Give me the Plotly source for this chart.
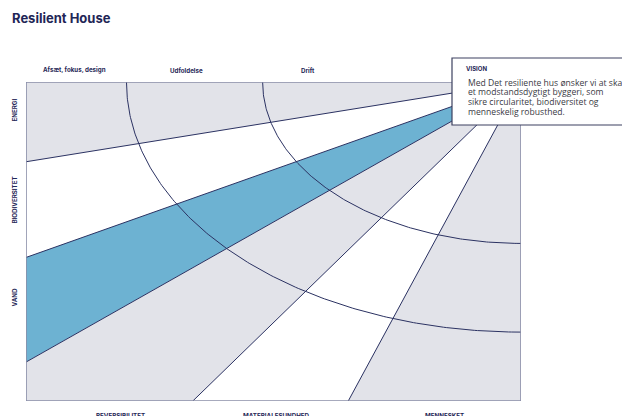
import numpy as np
import plotly.graph_objects as go

# ---------------- data (diagram geometry in frame units, 0..100) ----------------
title = "Resilient House"
phase_labels = ["Afsæt, fokus, design", "Udfoldelse", "Drift"]
phase_px_x = [74, 186, 308]
theme_left_labels = ["ENERGI", "BIODIVERSITET", "VAND"]
theme_left_px_y = [110, 200, 298]
theme_bottom_labels = ["REVERSIBILITET", "MATERIALESUNDHED", "MENNESKET"]
theme_bottom_px_x = [120, 276, 444]

focus = (100.0, 100.0)             # rays and arcs share the top-right corner
ray_left_y = [75.0, 45.0, 12.2]    # rays ending on the left edge
ray_bottom_x = [33.7, 65.1]        # rays ending on the bottom edge
arc_rx = [79.7, 52.2]              # arc radii (horizontal)
arc_ry = [78.4, 50.6]              # arc radii (vertical)

# sector fills, counter-clockwise from the top edge
sector_fill = ["gray", "white", "blue", "gray", "white", "gray"]

vision_title = "VISION"
vision_lines = [
    "Med Det resiliente hus ønsker vi at skabe",
    "et modstandsdygtigt byggeri, som",
    "sikre circularitet, biodiversitet og",
    "menneskelig robusthed.",
]

# ---------------- style ----------------
W, H = 622, 416
L, R, T, B = 26, 101, 82, 15
GRAY = "#e2e3e9"
BLUE = "#6db2d2"
NAVY = "#2b3262"
TXT = "#1f2656"
colors = {"gray": GRAY, "white": "#ffffff", "blue": BLUE}

def px2paper(px, py):
    return (px - L) / (W - L - R), (H - B - py) / (H - T - B)

fig = go.Figure()

# boundary points around the frame
bpts = [(0, 100)] + [(0, y) for y in ray_left_y] + [(0, 0)] + [(x, 0) for x in ray_bottom_x] + [(100, 0)]
ray_idx = [0, 1, 2, 3, 5, 6, 7]
for k in range(len(ray_idx) - 1):
    pts = bpts[ray_idx[k]:ray_idx[k + 1] + 1]
    xs = [focus[0]] + [p[0] for p in pts] + [focus[0]]
    ys = [focus[1]] + [p[1] for p in pts] + [focus[1]]
    fig.add_trace(go.Scatter(x=xs, y=ys, fill="toself", mode="lines",
                             line=dict(width=0), fillcolor=colors[sector_fill[k]],
                             hoverinfo="skip", showlegend=False))

# rays
ends = [(0, y) for y in ray_left_y] + [(x, 0) for x in ray_bottom_x]
for ex, ey in ends:
    fig.add_trace(go.Scatter(x=[focus[0], ex], y=[focus[1], ey], mode="lines",
                             line=dict(color=NAVY, width=1), hoverinfo="skip",
                             showlegend=False))

# arcs
t = np.linspace(np.pi, 1.5 * np.pi, 200)
for rx, ry in zip(arc_rx, arc_ry):
    fig.add_trace(go.Scatter(x=focus[0] + rx * np.cos(t), y=focus[1] + ry * np.sin(t),
                             mode="lines", line=dict(color=NAVY, width=1),
                             hoverinfo="skip", showlegend=False))

# frame
fig.add_shape(type="rect", xref="x", yref="y", x0=0, y0=0, x1=100, y1=100,
              line=dict(color="#8a8ea8", width=1.6), layer="above")

# vision box
bx0, by0 = px2paper(452, 58)
bx1, by1 = px2paper(700, 125)
fig.add_shape(type="rect", xref="paper", yref="paper", x0=bx0, y0=by1, x1=bx1, y1=by0,
              fillcolor="white", line=dict(color="#3d4160", width=1.2), layer="above")

ann = []
ax, ay = px2paper(464, 68.3)
ann.append(dict(x=ax, y=ay, text="<b>" + vision_title + "</b>", xanchor="left", yanchor="middle",
                font=dict(size=6, color=TXT, family="Inter")))
for i, line in enumerate(vision_lines):
    ax, ay = px2paper(466, 82.7 + 9.7 * i)
    ann.append(dict(x=ax, y=ay, text=line, xanchor="left", yanchor="middle",
                    font=dict(size=8.6, color="#3a3a44", family="Open Sans")))

ax, ay = px2paper(10, 18)
ann.append(dict(x=ax, y=ay, text="<b>" + title + "</b>", xanchor="left", yanchor="middle",
                font=dict(size=13, color=TXT, family="Inter")))

for lab, x in zip(phase_labels, phase_px_x):
    ax, ay = px2paper(x, 70.2)
    ann.append(dict(x=ax, y=ay, text="<b>" + lab + "</b>", xanchor="center", yanchor="middle",
                    font=dict(size=6.2, color=TXT, family="Inter")))
for lab, y in zip(theme_left_labels, theme_left_px_y):
    ax, ay = px2paper(13.5, y)
    ann.append(dict(x=ax, y=ay, text="<b>" + lab + "</b>", xanchor="center", yanchor="middle",
                    textangle=-90, font=dict(size=6.2, color=TXT, family="Inter")))
for lab, x in zip(theme_bottom_labels, theme_bottom_px_x):
    ax, ay = px2paper(x, 415.5)
    ann.append(dict(x=ax, y=ay, text="<b>" + lab + "</b>", xanchor="center", yanchor="middle",
                    font=dict(size=6.2, color=TXT, family="Inter")))

for a in ann:
    a.update(xref="paper", yref="paper", showarrow=False)

fig.update_layout(
    width=W, height=H, margin=dict(l=L, r=R, t=T, b=B),
    paper_bgcolor="white", plot_bgcolor=GRAY,
    xaxis=dict(range=[0, 100], visible=False, fixedrange=True),
    yaxis=dict(range=[0, 100], visible=False, fixedrange=True),
    annotations=ann, showlegend=False,
)
fig.write_html("out.html", config={"displayModeBar": False},
               post_script="document.body.style.margin='0';document.body.style.overflow='hidden';")
